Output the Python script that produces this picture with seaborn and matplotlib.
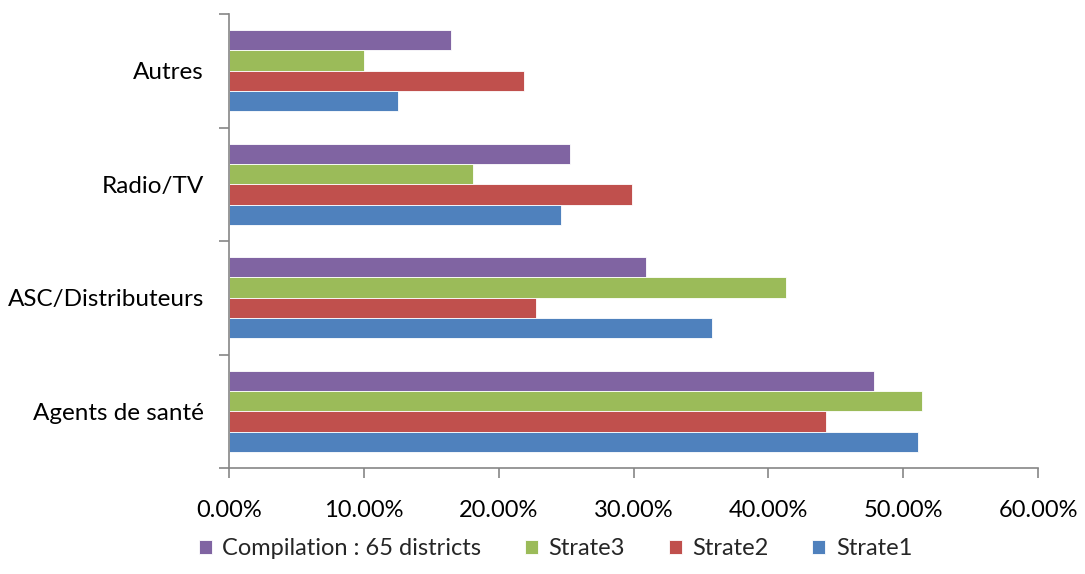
import numpy as np
import pandas as pd
import matplotlib
matplotlib.use("Agg")
import matplotlib.pyplot as plt
from matplotlib.ticker import FuncFormatter, FixedLocator
import seaborn as sns

# Sources of information, share of respondents (%)
categories = ["Autres", "Radio/TV", "ASC/Distributeurs", "Agents de santé"]
series_names = ["Compilation : 65 districts", "Strate3", "Strate2", "Strate1"]
compilation = [16.5, 25.3, 30.9, 47.8]
strate3 = [10.0, 18.1, 41.3, 51.4]
strate2 = [21.9, 29.9, 22.8, 44.3]
strate1 = [12.5, 24.65, 35.8, 51.1]
x_ticks = [0, 10, 20, 30, 40, 50, 60]

colors = ["#8064A2", "#9BBB59", "#C0504D", "#4F81BD"]

values = [compilation, strate3, strate2, strate1]
rows = []
for name, vals in zip(series_names, values):
    for cat, v in zip(categories, vals):
        rows.append({"Catégorie": cat, "Série": name, "Valeur": v / 100.0})
df = pd.DataFrame(rows)

sns.set_style("white")
plt.rcParams["font.family"] = ["Lato", "DejaVu Sans"]
fs = 17

fig = plt.figure(figsize=(10.85, 5.74), dpi=100)
ax = fig.add_axes([229 / 1085, 1 - 468 / 574, (1038 - 229) / 1085, (468 - 14) / 574])

sns.barplot(
    data=df, y="Catégorie", x="Valeur", hue="Série",
    order=categories, hue_order=series_names, palette=colors,
    orient="h", width=0.714, gap=0, errorbar=None,
    edgecolor="white", linewidth=0.6, ax=ax, saturation=1,
)

ax.set_xlim(0, 0.6)
ax.set_ylim(3.5, -0.5)
ax.xaxis.set_major_locator(FixedLocator([t / 100 for t in x_ticks]))
ax.xaxis.set_major_formatter(FuncFormatter(lambda v, p: f"{v * 100:.2f}%"))
ax.set_xlabel("")
ax.set_ylabel("")

axis_gray = "#868686"
for side in ["top", "right"]:
    ax.spines[side].set_visible(False)
for side in ["left", "bottom"]:
    ax.spines[side].set_color(axis_gray)
    ax.spines[side].set_linewidth(1.2)

# Category boundaries carry the tick marks on the vertical axis
ax.yaxis.set_minor_locator(FixedLocator(np.arange(-0.5, len(categories), 1.0)))
ax.tick_params(axis="y", which="major", length=0, pad=18, labelsize=fs + 0.5, labelcolor="#000000")
ax.tick_params(axis="y", which="minor", left=True, length=7, width=1.2, color=axis_gray, direction="out")
ax.tick_params(axis="x", which="major", bottom=True, length=7, width=1.2, color=axis_gray,
               direction="out", pad=16, labelsize=fs, labelcolor="#000000")

handles, labels = ax.get_legend_handles_labels()
ax.get_legend().remove()
fig.legend(
    handles, labels, loc="center", bbox_to_anchor=(0.512, 0.044), ncol=4,
    frameon=False, fontsize=fs, handlelength=0.55, handleheight=0.55,
    handletextpad=0.45, columnspacing=1.85,
)

fig.savefig("out.png", dpi=100)
